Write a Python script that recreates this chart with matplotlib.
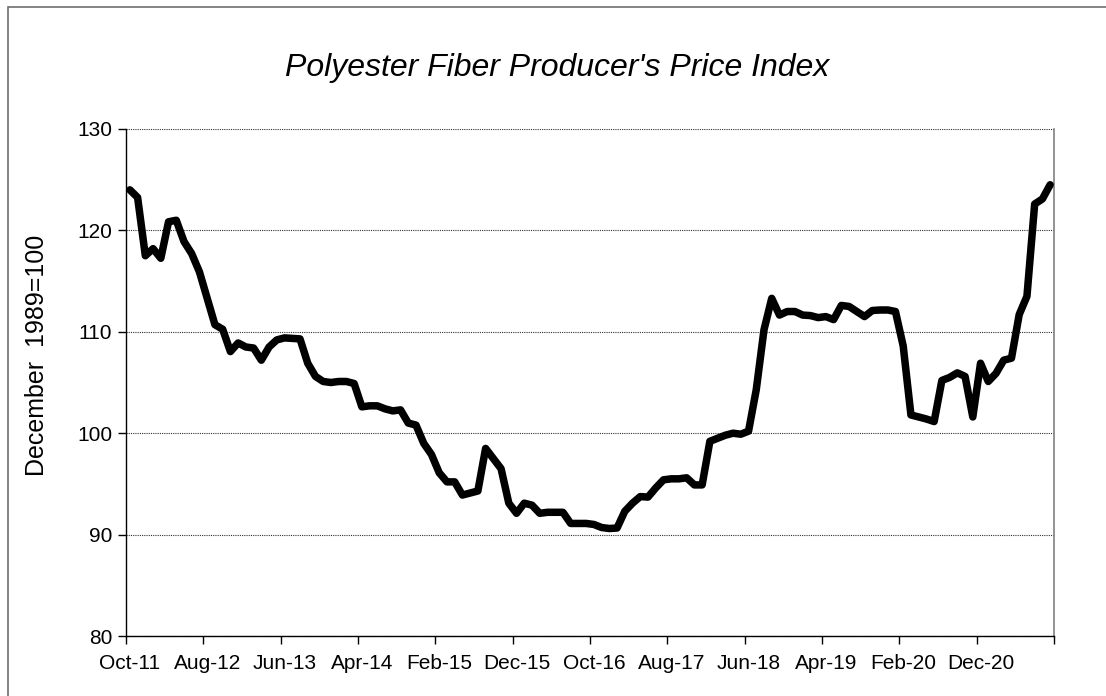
import matplotlib
matplotlib.use('Agg')
import matplotlib.pyplot as plt
from matplotlib import font_manager
from matplotlib.patches import Rectangle

plt.rcParams['font.family'] = ['Liberation Sans', 'DejaVu Sans']

# monthly index, Oct-11 .. Sep-21
index_values = [
    124.0, 123.25, 117.5, 118.2, 117.25, 120.85, 121.0, 118.9, 117.7, 115.9,
    113.3, 110.7, 110.25, 108.05, 108.9, 108.5, 108.4, 107.2, 108.5, 109.2,
    109.4, 109.35, 109.3, 106.9, 105.6, 105.1, 105.0, 105.1, 105.1, 104.9,
    102.6, 102.7, 102.7, 102.4, 102.2, 102.3, 101.0, 100.8, 99.0, 97.9,
    96.1, 95.2, 95.2, 93.9, 94.1, 94.3, 98.5, 97.5, 96.5, 93.1,
    92.1, 93.1, 92.9, 92.1, 92.2, 92.2, 92.2, 91.1, 91.1, 91.1,
    91.0, 90.7, 90.6, 90.65, 92.3, 93.1, 93.75, 93.7, 94.6, 95.4,
    95.5, 95.5, 95.6, 94.9, 94.9, 99.2, 99.5, 99.8, 100.0, 99.9,
    100.2, 104.3, 110.2, 113.3, 111.65, 112.0, 112.0, 111.65, 111.6, 111.4,
    111.5, 111.2, 112.6, 112.5, 112.0, 111.5, 112.1, 112.15, 112.15, 112.0,
    108.6, 101.8, 101.6, 101.4, 101.15, 105.2, 105.5, 105.95, 105.6, 101.6,
    106.9, 105.1, 105.9, 107.2, 107.4, 111.7, 113.5, 122.6, 123.1, 124.5,
]
tick_labels = ['Oct-11', 'Aug-12', 'Jun-13', 'Apr-14', 'Feb-15', 'Dec-15',
               'Oct-16', 'Aug-17', 'Jun-18', 'Apr-19', 'Feb-20', 'Dec-20']
y_ticks = [80, 90, 100, 110, 120, 130]

# the reference text is tall and narrow; use the narrow face when present
names = {f.name for f in font_manager.fontManager.ttflist}
if 'Liberation Sans Narrow' in names:
    tick_font = {'family': 'Liberation Sans Narrow', 'size': 18}
else:
    tick_font = {'family': 'Liberation Sans', 'size': 15}

fig = plt.figure(figsize=(11.06, 6.96), dpi=100)
fig.patches.append(Rectangle((8 / 1106, -0.1), 1.2, (696 - 7) / 696 + 0.1,
                             transform=fig.transFigure, fill=False,
                             edgecolor='#6e6e6e', linewidth=1.2))

ax = fig.add_axes([126 / 1106, 60 / 696, 928 / 1106, 507 / 696])
x = list(range(len(index_values)))
ax.plot(x, index_values, color='black', linewidth=5.4,
        solid_joinstyle='round', solid_capstyle='round', zorder=3)

ax.set_xlim(-0.5, len(index_values) - 0.5)
ax.set_ylim(80, 130)
ax.set_yticks(y_ticks)
ax.set_yticklabels([str(v) for v in y_ticks], fontdict=tick_font)
ax.grid(axis='y', linestyle=(0, (1, 1)), color='#303030', linewidth=0.8)

ax.set_xticks([10 * i for i in range(len(tick_labels))])
ax.set_xticklabels(tick_labels, fontdict=tick_font)
ax.set_xticks([10 * i - 0.5 for i in range(len(tick_labels) + 1)], minor=True)
ax.tick_params(axis='x', which='major', length=0, pad=13)
ax.tick_params(axis='x', which='minor', length=6, width=1, direction='out')
ax.tick_params(axis='y', length=6, width=1, direction='out', pad=4)

for s in ['left', 'bottom']:
    ax.spines[s].set_color('black')
    ax.spines[s].set_linewidth(1)
ax.spines['top'].set_visible(False)
ax.spines['right'].set_color('#808080')
ax.spines['right'].set_linewidth(1.2)

fig.text(37 / 1106, 1 - 355 / 696, 'December  1989=100', fontsize=18,
         rotation=90, ha='center', va='center')
fig.text(557 / 1106, 1 - 68 / 696, "Polyester Fiber Producer's Price Index",
         fontsize=23, style='italic', ha='center', va='center')

fig.savefig('out.png', dpi=100)
